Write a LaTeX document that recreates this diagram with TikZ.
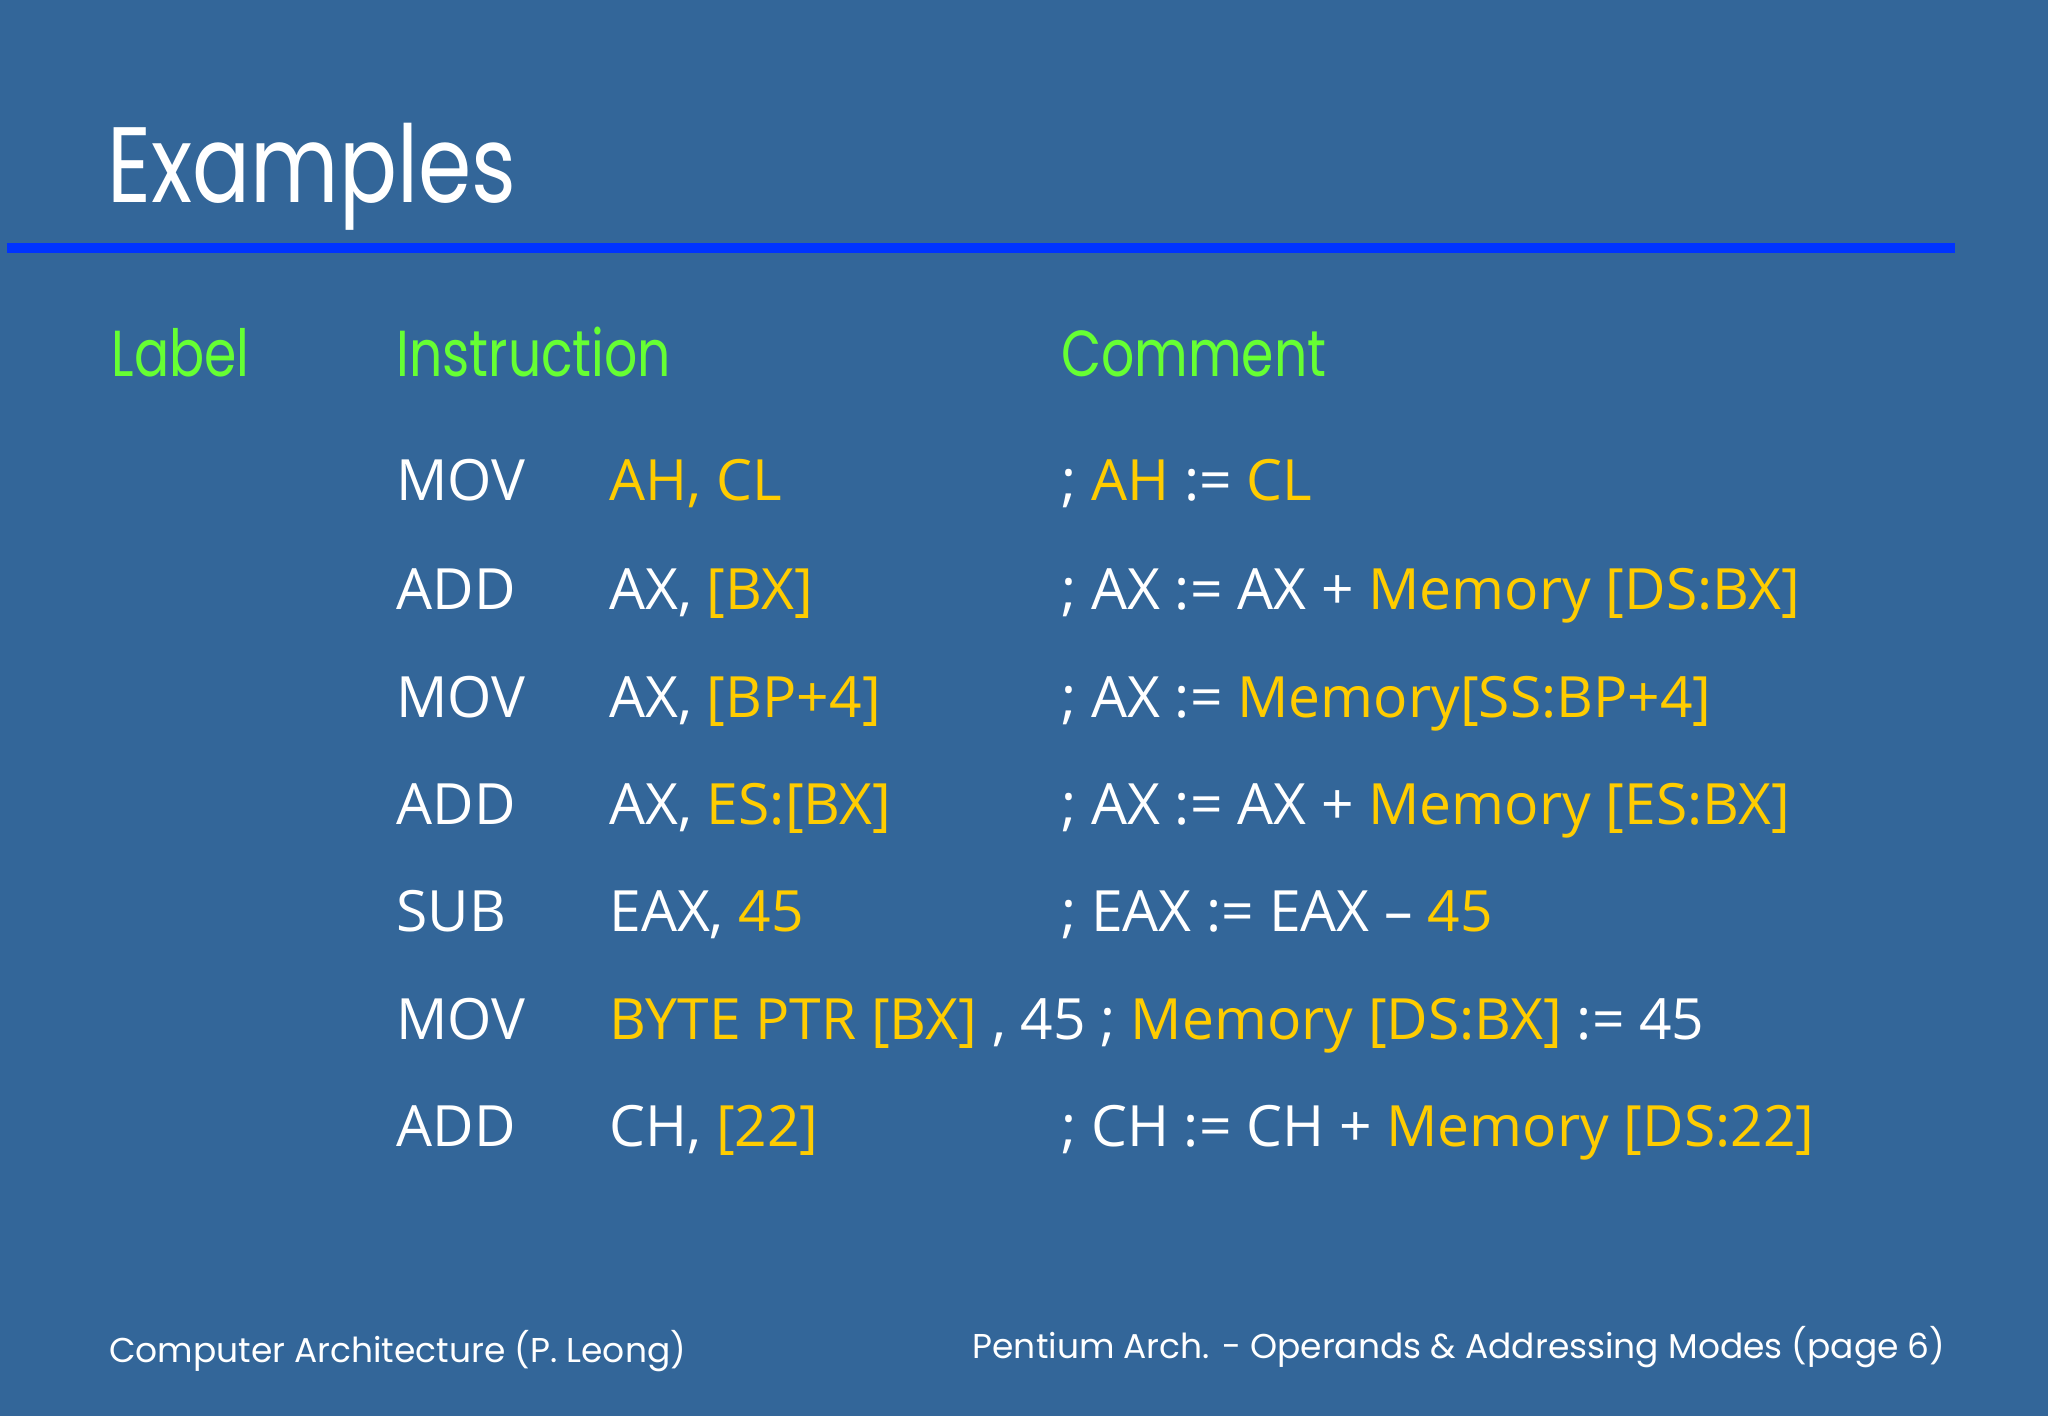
\documentclass[tikz,border=0pt]{standalone}
\usepackage{fontspec}
\setmainfont{Open Sans}
\newfontfamily\titlefont[FakeStretch=0.8]{Poppins}
\newfontfamily\footfont{Poppins}
\definecolor{bg}{HTML}{336699}
\definecolor{rule}{HTML}{0033FF}
\definecolor{yel}{HTML}{FFCC00}
\definecolor{grn}{HTML}{66FF33}
\newcommand{\Y}[1]{\textcolor{yel}{#1}}
\begin{document}
\begin{tikzpicture}[x=0.01306cm,y=-0.01306cm,
  body/.style={anchor=base west,inner sep=0pt,text=white,font=\fontsize{16.2}{18}\selectfont},
  head/.style={anchor=base west,inner sep=0pt,text=grn,font=\titlefont\fontsize{18.5}{20}\selectfont},
  foot/.style={inner sep=0pt,text=white,font=\footfont\fontsize{9.8}{12}\selectfont}]
\fill[bg] (0,0) rectangle (1568,1084);
\useasboundingbox (0,0) rectangle (1568,1084);
\node[anchor=base west,inner sep=0pt,text=white,font=\titlefont\fontsize{30.5}{34}\selectfont] (title) at (82,155) {Examples};
\fill[rule] (5,186) rectangle (1497,194);
\node[head] (h1) at (85,288) {Label};
\node[head] (h2) at (303,288) {Instruction};
\node[head] (h3) at (812,288) {Comment};
\foreach \y/\op/\arg/\com [count=\i] in {
 383/MOV/{\Y{AH, CL}}/{; \Y{AH} := \Y{CL}},
 467/ADD/{AX, \Y{[BX]}}/{; AX := AX + \Y{Memory [DS:BX]}},
 549/MOV/{AX, \Y{[BP+4]}}/{; AX := \Y{Memory[SS:BP+4]}},
 631/ADD/{AX, \Y{ES:[BX]}}/{; AX := AX + \Y{Memory [ES:BX]}},
 713/SUB/{EAX, \Y{45}}/{; EAX := EAX – \Y{45}},
 878/ADD/{CH, \Y{[22]}}/{; CH := CH + \Y{Memory [DS:22]}}}{
 \node[body] (op\i) at (303,\y) {\op};
 \node[body] (arg\i) at (466,\y) {\arg};
 \node[body] (com\i) at (812,\y) {\com};
}
\node[body] (op7) at (303,796) {MOV};
\node[body] (arg7) at (466,796) {\Y{BYTE PTR [BX]} , 45 ; \Y{Memory [DS:BX]} := 45};
\node[foot,anchor=base west] (f1) at (83,1043) {Computer Architecture (P. Leong)};
\node[foot,anchor=base east] (f2) at (1490,1040) {Pentium Arch. - Operands \& Addressing Modes (page 6)};
\end{tikzpicture}
\end{document}
